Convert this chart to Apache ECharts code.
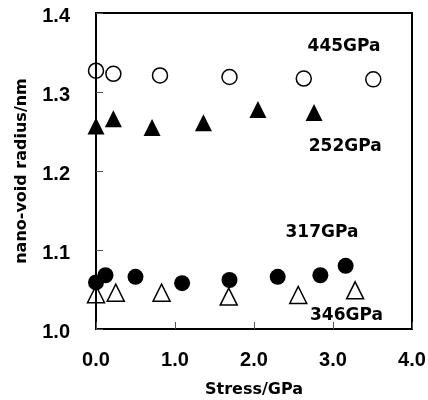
<!DOCTYPE html>
<html>
<head>
<meta charset="utf-8">
<script src="https://cdn.jsdelivr.net/npm/echarts@6/dist/echarts.min.js"></script>
<style>html,body{margin:0;padding:0;background:#fff;}#c{width:428px;height:400px;}</style>
</head>
<body>
<div id="c"></div>
<script>
// ---- data ----
const xTickLabels = ['0.0', '1.0', '2.0', '3.0', '4.0'];
const yTickLabels = ['1.0', '1.1', '1.2', '1.3', '1.4'];

const stress445 = [0.0, 0.22, 0.81, 1.69, 2.63, 3.51];
const radius445 = [1.327, 1.323, 1.321, 1.319, 1.317, 1.316];

const stress252 = [0.0, 0.22, 0.71, 1.36, 2.05, 2.76];
const radius252 = [1.257, 1.266, 1.255, 1.261, 1.278, 1.274];

const stress317 = [0.0, 0.12, 0.50, 1.09, 1.69, 2.30, 2.84, 3.16];
const radius317 = [1.059, 1.068, 1.066, 1.058, 1.062, 1.066, 1.068, 1.080];

const stress346 = [0.0, 0.25, 0.83, 1.68, 2.56, 3.28];
const radius346 = [1.044, 1.046, 1.046, 1.041, 1.043, 1.049];

const labelNames = ['445GPa', '252GPa', '317GPa', '346GPa'];
const labelStress = [3.14, 3.155, 2.86, 3.17];
const labelRadius = [1.3575, 1.2305, 1.1225, 1.0175];

const xTitle = 'Stress/GPa';
const yTitle = 'nano-void radius/nm';

// ---- chart ----
const zip = (xs, ys) => xs.map((x, i) => [x, ys[i]]);
const chart = echarts.init(document.getElementById('c'), null, {renderer: 'canvas'});
const tickFont = {fontFamily: 'Liberation Sans', fontWeight: 'bold', fontSize: 20, color: '#000'};
const titleFont = {fontFamily: 'DejaVu Sans', fontWeight: 'bold', fontSize: 16, color: '#000'};

const openStyle = {color: 'rgba(0,0,0,0)', borderColor: '#000', borderWidth: 1.5, opacity: 1};
const filledStyle = {color: '#000', borderWidth: 0, opacity: 1};

chart.setOption({
  animation: false,
  backgroundColor: '#fff',
  grid: {left: 96, right: 16, top: 13, bottom: 71, containLabel: false, outerBoundsMode: 'none',
         show: true, borderColor: '#000', borderWidth: 2, backgroundColor: 'transparent'},
  xAxis: {
    type: 'value', min: 0, max: 4, interval: 1,
    name: xTitle, nameLocation: 'middle', nameGap: 53, nameTextStyle: titleFont,
    axisLine: {show: true, onZero: false, lineStyle: {color: '#000', width: 2}},
    axisTick: {show: true, inside: true, length: 7, lineStyle: {color: '#555', width: 1}},
    axisLabel: {...tickFont, margin: 21, formatter: (v, i) => xTickLabels[i]},
    splitLine: {show: false}
  },
  yAxis: {
    type: 'value', min: 1.0, max: 1.4, interval: 0.1,
    name: yTitle, nameLocation: 'middle', nameGap: 66, nameTextStyle: titleFont,
    axisLine: {show: true, onZero: false, lineStyle: {color: '#000', width: 2}},
    axisTick: {show: true, inside: true, length: 7, lineStyle: {color: '#555', width: 1}},
    axisLabel: {...tickFont, margin: 26, verticalAlign: 'top', lineHeight: 7, formatter: (v, i) => yTickLabels[i]},
    splitLine: {show: false}
  },
  series: [
    {name: '445GPa', type: 'scatter', clip: false, symbol: 'circle', symbolSize: 15,
     itemStyle: openStyle, data: zip(stress445, radius445)},
    {name: '252GPa', type: 'scatter', clip: false, symbol: 'triangle', symbolSize: 17,
     itemStyle: filledStyle, data: zip(stress252, radius252)},
    {name: '346GPa', type: 'scatter', clip: false, symbol: 'triangle', symbolSize: 17,
     itemStyle: openStyle, data: zip(stress346, radius346)},
    {name: '317GPa', type: 'scatter', clip: false, symbol: 'circle', symbolSize: 16,
     itemStyle: filledStyle, data: zip(stress317, radius317)},
    {name: 'labels', type: 'scatter', silent: true, clip: false, symbolSize: 0,
     itemStyle: {opacity: 1},
     data: labelNames.map((n, i) => ({name: n, value: [labelStress[i], labelRadius[i]]})),
     label: {show: true, position: 'inside', formatter: p => p.name, textBorderWidth: 0,
             fontFamily: 'DejaVu Sans', fontWeight: 'bold', fontSize: 17, color: '#000'}}
  ]
});
</script>
</body>
</html>
